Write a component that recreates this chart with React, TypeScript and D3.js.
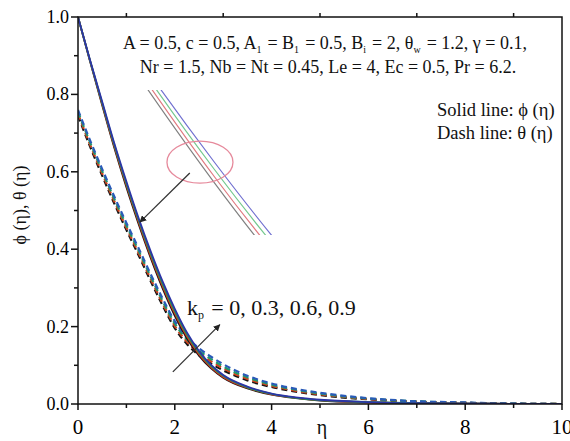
import React, { useEffect, useRef } from "react"
import * as d3 from "d3"

// eta grid and profiles
const eta = [0, 0.25, 0.5, 0.75, 1, 1.25, 1.5, 1.75, 2, 2.25, 2.5, 2.75, 3, 3.5, 4, 4.5, 5, 6, 7, 8, 9, 10]

const kpValues = ["0", "0.3", "0.6", "0.9"]

const phiKp0 = [1.0, 0.885, 0.772, 0.662, 0.56, 0.466, 0.378, 0.298, 0.228, 0.17, 0.125, 0.092, 0.068, 0.04, 0.024, 0.015, 0.009, 0.004, 0.002, 0.001, 0.0005, 0]
const phiKp03 = [1.0, 0.886, 0.775, 0.666, 0.565, 0.471, 0.383, 0.304, 0.234, 0.175, 0.129, 0.095, 0.07, 0.042, 0.025, 0.016, 0.01, 0.004, 0.002, 0.001, 0.0005, 0]
const phiKp06 = [1.0, 0.887, 0.778, 0.67, 0.57, 0.476, 0.389, 0.31, 0.24, 0.18, 0.133, 0.098, 0.073, 0.043, 0.026, 0.016, 0.01, 0.005, 0.002, 0.001, 0.0005, 0]
const phiKp09 = [1.0, 0.888, 0.781, 0.674, 0.575, 0.481, 0.395, 0.316, 0.246, 0.185, 0.137, 0.101, 0.075, 0.045, 0.027, 0.017, 0.011, 0.005, 0.002, 0.001, 0.0005, 0]

const thetaKp0 = [0.745, 0.665, 0.59, 0.518, 0.45, 0.385, 0.318, 0.254, 0.196, 0.155, 0.126, 0.104, 0.087, 0.061, 0.044, 0.032, 0.023, 0.012, 0.006, 0.003, 0.001, 0]
const thetaKp03 = [0.75, 0.67, 0.596, 0.524, 0.456, 0.391, 0.324, 0.26, 0.202, 0.161, 0.132, 0.11, 0.092, 0.065, 0.047, 0.034, 0.025, 0.013, 0.006, 0.003, 0.001, 0]
const thetaKp06 = [0.755, 0.676, 0.602, 0.53, 0.462, 0.397, 0.33, 0.266, 0.208, 0.167, 0.138, 0.116, 0.097, 0.069, 0.05, 0.037, 0.027, 0.014, 0.007, 0.003, 0.001, 0]
const thetaKp09 = [0.76, 0.681, 0.607, 0.536, 0.468, 0.403, 0.336, 0.272, 0.214, 0.173, 0.144, 0.122, 0.103, 0.073, 0.053, 0.039, 0.029, 0.015, 0.007, 0.004, 0.001, 0]

const phiSeries = [phiKp0, phiKp03, phiKp06, phiKp09]
const thetaSeries = [thetaKp0, thetaKp03, thetaKp06, thetaKp09]

const xTicks = [0, 2, 4, 6, 8, 10]
const yTicks = [0, 0.2, 0.4, 0.6, 0.8, 1.0]

const lineColors = ["#151515", "#d8301e", "#1f9a52", "#2c34a6"]
const dashColors = ["#151515", "#d2401c", "#1f9a6a", "#2a5ab8"]
const insetColors = ["#808080", "#e07a80", "#74c88e", "#7070d0"]

const FONT = "'Liberation Serif', 'Times New Roman', serif"

const App = () => {
    const ref = useRef<SVGGElement>(null)

    useEffect(() => {
        const g = d3.select(ref.current)
        g.selectAll("*").remove()

        const left = 78, right = 562, top = 17, bottom = 404
        const x = d3.scaleLinear().domain([0, 10]).range([left, right])
        const y = d3.scaleLinear().domain([0, 1]).range([bottom, top])

        const defs = g.append("defs")
        defs.append("marker")
            .attr("id", "arr")
            .attr("viewBox", "0 0 10 10")
            .attr("refX", 9)
            .attr("refY", 5)
            .attr("markerWidth", 7)
            .attr("markerHeight", 7)
            .attr("markerUnits", "userSpaceOnUse")
            .attr("orient", "auto")
            .append("path")
            .attr("d", "M0,0 L10,5 L0,10 z")
            .attr("fill", "#222")
        defs.append("clipPath").attr("id", "plotclip")
            .append("rect")
            .attr("x", left).attr("y", top - 2)
            .attr("width", right - left).attr("height", bottom - top + 2)

        // curves
        const line = d3.line<number>()
            .x((d, i) => x(eta[i]))
            .y(d => y(d))
            .curve(d3.curveMonotoneX)

        const plot = g.append("g").attr("clip-path", "url(#plotclip)")
        thetaSeries.forEach((s, i) => {
            plot.append("path")
                .attr("d", line(s))
                .attr("fill", "none")
                .attr("stroke", dashColors[i])
                .attr("stroke-width", 2.2)
                .attr("stroke-dasharray", "6,4")
        })
        phiSeries.forEach((s, i) => {
            plot.append("path")
                .attr("d", line(s))
                .attr("fill", "none")
                .attr("stroke", lineColors[i])
                .attr("stroke-width", 1.8)
        })

        // magnified inset of the solid curves
        const xIn = d3.scaleLinear().domain([1.27, 1.64]).range([145, 257])
        const yIn = d3.scaleLinear().domain([0.455, 0.335]).range([90, 235])
        defs.append("clipPath").attr("id", "insetclip")
            .append("rect")
            .attr("x", 120).attr("y", 90)
            .attr("width", 200).attr("height", 145)
        const insetLine = d3.line<number>()
            .x((d, i) => xIn(eta[i]))
            .y(d => yIn(d))
            .curve(d3.curveMonotoneX)
        const inset = g.append("g").attr("clip-path", "url(#insetclip)")
        phiSeries.forEach((s, i) => {
            inset.append("path")
                .attr("d", insetLine(s))
                .attr("fill", "none")
                .attr("stroke", insetColors[i])
                .attr("stroke-width", 1.2)
        })
        g.append("ellipse")
            .attr("cx", x(2.52)).attr("cy", y(0.625))
            .attr("rx", 33).attr("ry", 21)
            .attr("fill", "none")
            .attr("stroke", "#e68a9c")
            .attr("stroke-width", 1.3)

        // arrows
        g.append("line")
            .attr("x1", x(2.31)).attr("y1", y(0.597))
            .attr("x2", x(1.28)).attr("y2", y(0.47))
            .attr("stroke", "#333").attr("stroke-width", 1.3)
            .attr("marker-end", "url(#arr)")
        g.append("line")
            .attr("x1", x(1.96)).attr("y1", y(0.083))
            .attr("x2", x(2.93)).attr("y2", y(0.205))
            .attr("stroke", "#333").attr("stroke-width", 1.3)
            .attr("marker-end", "url(#arr)")

        // axes
        const axes = g.append("g").attr("stroke", "#111").attr("stroke-width", 1.5)
        axes.append("rect")
            .attr("x", left).attr("y", top)
            .attr("width", right - left).attr("height", bottom - top)
            .attr("fill", "none")
        const minorX = d3.range(1, 10, 2)
        const minorY = d3.range(0.1, 1, 0.2)
        xTicks.forEach(t => {
            axes.append("line").attr("x1", x(t)).attr("x2", x(t)).attr("y1", bottom).attr("y2", bottom + 6)
        })
        minorX.forEach(t => {
            axes.append("line").attr("x1", x(t)).attr("x2", x(t)).attr("y1", bottom).attr("y2", bottom + 4)
            axes.append("line").attr("x1", x(t)).attr("x2", x(t)).attr("y1", top).attr("y2", top - 4)
        })
        yTicks.forEach(t => {
            axes.append("line").attr("x1", left).attr("x2", left - 7).attr("y1", y(t)).attr("y2", y(t))
        })
        minorY.forEach(t => {
            axes.append("line").attr("x1", left).attr("x2", left - 4).attr("y1", y(t)).attr("y2", y(t))
        })

        g.append("g").selectAll("text").data(xTicks).enter().append("text")
            .attr("x", d => x(d)).attr("y", 434)
            .attr("text-anchor", "middle")
            .attr("font-family", FONT).attr("font-size", 21)
            .text(d => d)
        g.append("g").selectAll("text").data(yTicks).enter().append("text")
            .attr("x", left - 9).attr("y", d => y(d) + 6)
            .attr("text-anchor", "end")
            .attr("font-family", FONT).attr("font-size", 18)
            .text(d => d3.format(".1f")(d))
    }, [])

    const sub = (t: string, size = 10) => (
        <>
            <tspan dy={4} fontSize={size}>{t}</tspan>
            <tspan dy={-4}>{"\u200A"}</tspan>
        </>
    )

    return (
        <svg
            width={570}
            height={441}
            style={{ position: "absolute", left: 0, top: 0, background: "#fff" }}
        >
            <g ref={ref} />
            <g fontFamily={FONT} fill="#111">
                <text x={322} y={434} fontSize={20} textAnchor="middle">η</text>
                <text transform="translate(26,205) rotate(-90)" fontSize={18} textAnchor="middle">ϕ (η), θ (η)</text>
                <text x={325} y={49} fontSize={18} textAnchor="middle">
                    A = 0.5, c = 0.5, A{sub("1")} = B{sub("1")} = 0.5, B{sub("i")} = 2, θ{sub("w")} = 1.2, γ = 0.1,
                </text>
                <text x={328} y={73} fontSize={18} textAnchor="middle">
                    Nr = 1.5, Nb = Nt = 0.45, Le = 4, Ec = 0.5, Pr = 6.2.
                </text>
                <text x={437} y={116} fontSize={18.5}>Solid line: ϕ (η)</text>
                <text x={437} y={139} fontSize={18.5}>Dash line: θ (η)</text>
                <text x={187} y={315} fontSize={22}>
                    k{sub("p", 12)} = {kpValues.join(", ")}
                </text>
            </g>
        </svg>
    )
}

export default App
